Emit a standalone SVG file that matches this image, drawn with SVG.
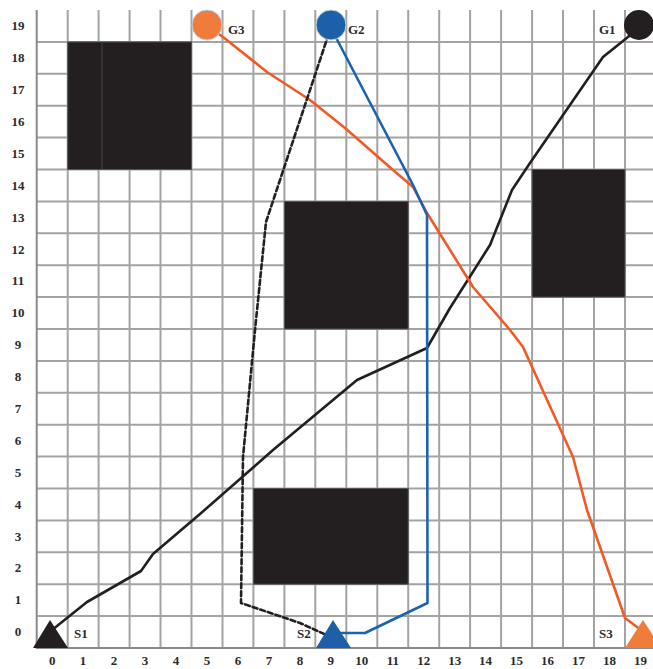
<svg xmlns="http://www.w3.org/2000/svg" width="653" height="669" viewBox="0 0 653 669">
<style>
.grid{stroke:#a3a3a3;stroke-width:2;fill:none}
.border{stroke:#8a8a8a;stroke-width:2;fill:none}
.obs{fill:#231f20;stroke:#555;stroke-width:1}
.ax{font-family:"Liberation Serif",serif;font-weight:bold;font-size:13px;fill:#2b2b2b;text-anchor:middle}
.lbl{font-family:"Liberation Serif",serif;font-weight:bold;font-size:13px;fill:#2b2b2b}
.path{fill:none;stroke-width:2.6;stroke-linejoin:round;stroke-linecap:round}
</style>
<rect width="653" height="669" fill="#fff"/>
<g id="grid">
<path class="grid" d="M67.7 10V648M98.6 10V648M129.6 10V648M160.5 10V648M191.5 10V648M222.5 10V648M253.4 10V648M284.4 10V648M315.3 10V648M346.3 10V648M377.3 10V648M408.2 10V648M439.2 10V648M470.1 10V648M501.1 10V648M532.1 10V648M563 10V648M594 10V648M625 10V648"/>
<path class="grid" d="M36.7 616.1H653M36.7 584.2H653M36.7 552.3H653M36.7 520.4H653M36.7 488.5H653M36.7 456.6H653M36.7 424.7H653M36.7 392.8H653M36.7 360.9H653M36.7 329H653M36.7 297.1H653M36.7 265.2H653M36.7 233.3H653M36.7 201.4H653M36.7 169.5H653M36.7 137.6H653M36.7 105.7H653M36.7 73.8H653M36.7 41.9H653"/>
<path class="border" d="M36.7 10V648H653"/>
</g>
<g id="axis-labels">
<text class="ax" x="18" y="30">19</text>
<text class="ax" x="18" y="62">18</text>
<text class="ax" x="18" y="94">17</text>
<text class="ax" x="18" y="126">16</text>
<text class="ax" x="18" y="158">15</text>
<text class="ax" x="18" y="190">14</text>
<text class="ax" x="18" y="222">13</text>
<text class="ax" x="18" y="254">12</text>
<text class="ax" x="18" y="285">11</text>
<text class="ax" x="18" y="317">10</text>
<text class="ax" x="18" y="349">9</text>
<text class="ax" x="18" y="381">8</text>
<text class="ax" x="18" y="413">7</text>
<text class="ax" x="18" y="445">6</text>
<text class="ax" x="18" y="477">5</text>
<text class="ax" x="18" y="509">4</text>
<text class="ax" x="18" y="541">3</text>
<text class="ax" x="18" y="572">2</text>
<text class="ax" x="18" y="604">1</text>
<text class="ax" x="18" y="636">0</text>
<text class="ax" x="52.2" y="665">0</text>
<text class="ax" x="83.1" y="665">1</text>
<text class="ax" x="114.1" y="665">2</text>
<text class="ax" x="145.1" y="665">3</text>
<text class="ax" x="176" y="665">4</text>
<text class="ax" x="207" y="665">5</text>
<text class="ax" x="238" y="665">6</text>
<text class="ax" x="268.9" y="665">7</text>
<text class="ax" x="299.9" y="665">8</text>
<text class="ax" x="330.8" y="665">9</text>
<text class="ax" x="361.8" y="665">10</text>
<text class="ax" x="392.8" y="665">11</text>
<text class="ax" x="423.7" y="665">12</text>
<text class="ax" x="454.7" y="665">13</text>
<text class="ax" x="485.6" y="665">14</text>
<text class="ax" x="516.6" y="665">15</text>
<text class="ax" x="547.6" y="665">16</text>
<text class="ax" x="578.5" y="665">17</text>
<text class="ax" x="609.5" y="665">18</text>
<text class="ax" x="640.4" y="665">19</text>
</g>
<g id="obstacles">
<rect class="obs" x="67.7" y="41.9" width="123.8" height="127.6"/>
<line x1="102" y1="42" x2="102" y2="169" stroke="#3a3a3a" stroke-width="1.5"/>
<rect class="obs" x="284.4" y="201.4" width="123.8" height="127.6"/>
<rect class="obs" x="532.1" y="169.5" width="92.9" height="127.6"/>
<rect class="obs" x="253.4" y="488.5" width="154.8" height="95.7"/>
</g>
<g id="connectors">
<polyline id="path-S1-G1" class="path" stroke="#231f20" points="52,630 87,602 141,571 153,554 200,514 273,450 357,380 427,348 450,308 490,245 512,190 530,163 603,57 628,37 639,26"/>
<polyline id="path-S3-G3" class="path" stroke="#f15a24" points="207,26 223,37 267,72 310,100 345,128 393,170 413,187 427,213 450,250 473,287 510,330 523,347 573,457 587,510 625,618 641,630"/>
<polyline id="path-S2-G2" class="path" stroke="#1b63b0" points="331,28 413,185 427,215 427.5,603 365,633 338,633"/>
<polyline id="path-S2-G2-alt" class="path" stroke="#231f20" stroke-dasharray="5 3" stroke-linecap="butt" points="331,27 266,222 255,330 243,457 241,603 300,623 333,638"/>
</g>
<g id="G3">
<circle cx="207" cy="25" r="15" fill="#f07c3c" stroke="#b9d3e6" stroke-width="1"/>
<text class="lbl" x="228" y="34">G3</text>
</g>
<g id="G2">
<circle cx="331" cy="25" r="15" fill="#1d5fa8" stroke="#b9d3e6" stroke-width="1"/>
<text class="lbl" x="348" y="34">G2</text>
</g>
<g id="G1">
<circle cx="639" cy="25" r="15" fill="#231f20"/>
<text class="lbl" x="599" y="34">G1</text>
</g>
<g id="S1">
<polygon points="50,620 33,648 68,648" fill="#231f20"/>
<text class="lbl" x="74" y="638">S1</text>
</g>
<g id="S2">
<text class="lbl" x="297" y="638">S2</text>
<polygon points="333,620 316,648 351,648" fill="#1d5fa8"/>
</g>
<g id="S3">
<polygon points="643,620 625,648 661,648" fill="#f07c3c"/>
<text class="lbl" x="599" y="638">S3</text>
</g>
</svg>
